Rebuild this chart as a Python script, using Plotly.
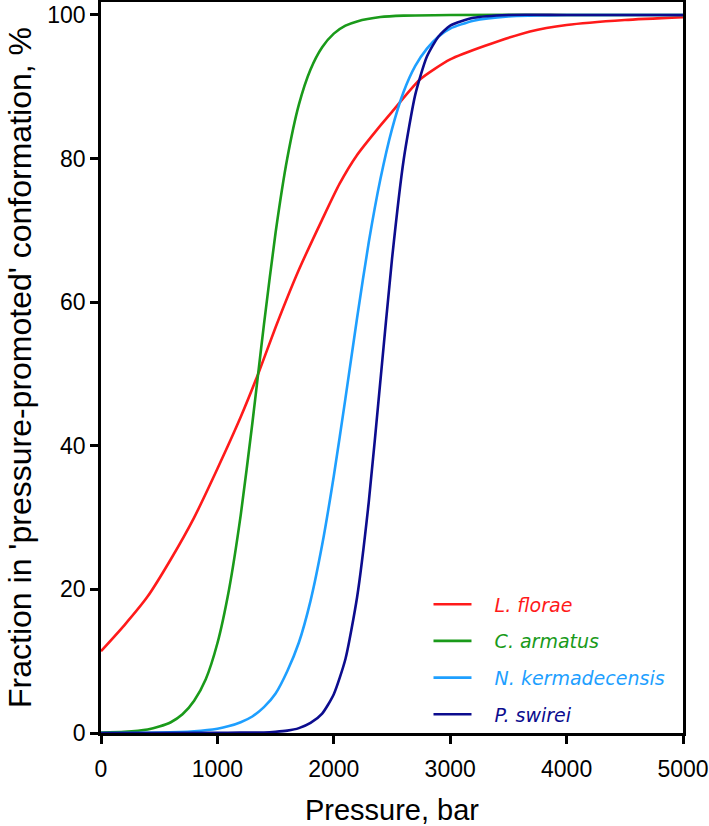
import plotly.graph_objects as go

# Pressure (bar) and fraction (%)
red_p = [0, 200, 400, 600, 800, 1000, 1200, 1350, 1500, 1700, 1900, 2050, 2200, 2370, 2500, 2740, 3000, 3300, 3686, 4000, 4500, 5000]
red_y = [11.4, 15.0, 19.0, 24.2, 30.0, 36.8, 44.0, 50.0, 56.5, 64.5, 71.5, 76.5, 80.5, 84.0, 86.5, 91.0, 93.8, 95.7, 97.7, 98.6, 99.3, 99.7]

green_p = [0, 200, 400, 500, 600, 700, 800, 900, 1000, 1100, 1200, 1300, 1350, 1400, 1500, 1600, 1700, 1800, 1900, 2000, 2100, 2200, 2400, 2600, 3000, 4000, 5000]
green_y = [0.05, 0.17, 0.5, 0.9, 1.5, 2.6, 4.5, 7.5, 12.5, 20.0, 30.3, 43.1, 50.0, 56.9, 69.7, 80.0, 87.5, 92.4, 95.5, 97.4, 98.5, 99.1, 99.7, 99.9, 100, 100, 100]

lblue_p = [0, 500, 800, 1000, 1100, 1200, 1300, 1400, 1500, 1600, 1700, 1800, 1900, 2000, 2100, 2200, 2300, 2400, 2500, 2600, 2700, 2800, 2900, 3000, 3200, 3500, 4000, 5000]
lblue_y = [0.01, 0.06, 0.25, 0.6, 0.96, 1.5, 2.3, 3.6, 5.5, 8.6, 12.6, 18.4, 26.2, 35.8, 46.6, 57.8, 68.3, 77.1, 84.1, 89.3, 92.9, 95.3, 97.0, 98.1, 99.2, 99.8, 100, 100]

navy_p = [0, 1000, 1200, 1400, 1500, 1600, 1700, 1800, 1900, 2000, 2100, 2200, 2300, 2400, 2500, 2600, 2700, 2800, 2900, 3000, 3200, 3500, 4000, 5000]
navy_y = [0, 0.02, 0.05, 0.08, 0.17, 0.33, 0.68, 1.4, 2.7, 5.4, 10.3, 18.9, 32.1, 49.0, 66.0, 79.8, 88.9, 94.2, 97.0, 98.5, 99.6, 100, 100, 100]

names = ["L. florae", "C. armatus", "N. kermadecensis", "P. swirei"]
colors = ["#ff1a1a", "#1a9a1a", "#1e9fff", "#0c0c8e"]
series = [(red_p, red_y), (green_p, green_y), (lblue_p, lblue_y), (navy_p, navy_y)]

x_ticks = [0, 1000, 2000, 3000, 4000, 5000]
y_ticks = [0, 20, 40, 60, 80, 100]

base_family = "Liberation Sans Narrow, Arial Narrow, Liberation Sans, Arial"
tick_font = dict(family=base_family, size=23, color="black")

fig = go.Figure()
for i, ((px, py), name, col) in enumerate(zip(series, names, colors)):
    fig.add_trace(go.Scatter(
        x=px, y=py, mode="lines",
        name=f"<span style='color:{col}'>&nbsp;&nbsp;&nbsp;{name}</span>",
        legendgroup=str(i),
        line=dict(color=col, width=2.6, shape="spline", smoothing=0.6),
    ))

fig.update_layout(
    width=709, height=826,
    margin=dict(l=101, r=26, t=2, b=93, autoexpand=False),
    paper_bgcolor="white", plot_bgcolor="white",
    showlegend=True,
    legend=dict(
        x=0.5627, y=0.202, xanchor="left", yanchor="top",
        bgcolor="rgba(0,0,0,0)", borderwidth=0,
        font=dict(family="DejaVu Sans", size=19, style="italic"),
        traceorder="grouped", tracegroupgap=9, itemwidth=38,
    ),
)

fig.update_xaxes(
    range=[0, 5000], tickvals=x_ticks, ticktext=[str(v) for v in x_ticks],
    showgrid=False, zeroline=False, showline=True, linecolor="black", linewidth=2.5,
    mirror=True, ticks="outside", ticklen=8, tickwidth=2.5, tickcolor="black",
    ticklabelstandoff=6, automargin=False,
    tickfont=tick_font,
    title=dict(text="Pressure, bar", font=dict(family=base_family, size=29, color="black"), standoff=22),
)
fig.update_yaxes(
    range=[0, 101.8], tickvals=y_ticks, ticktext=[str(v) for v in y_ticks],
    showgrid=False, zeroline=False, showline=True, linecolor="black", linewidth=2.5,
    mirror=True, ticks="outside", ticklen=8, tickwidth=2.5, tickcolor="black",
    automargin=False,
    tickfont=tick_font,
    title=dict(text="Fraction in 'pressure-promoted' conformation, %", font=dict(family=base_family, size=32, color="black"), standoff=7),
)

fig.write_html("out.html", config={"displayModeBar": False}, post_script="document.body.style.margin='0';")
